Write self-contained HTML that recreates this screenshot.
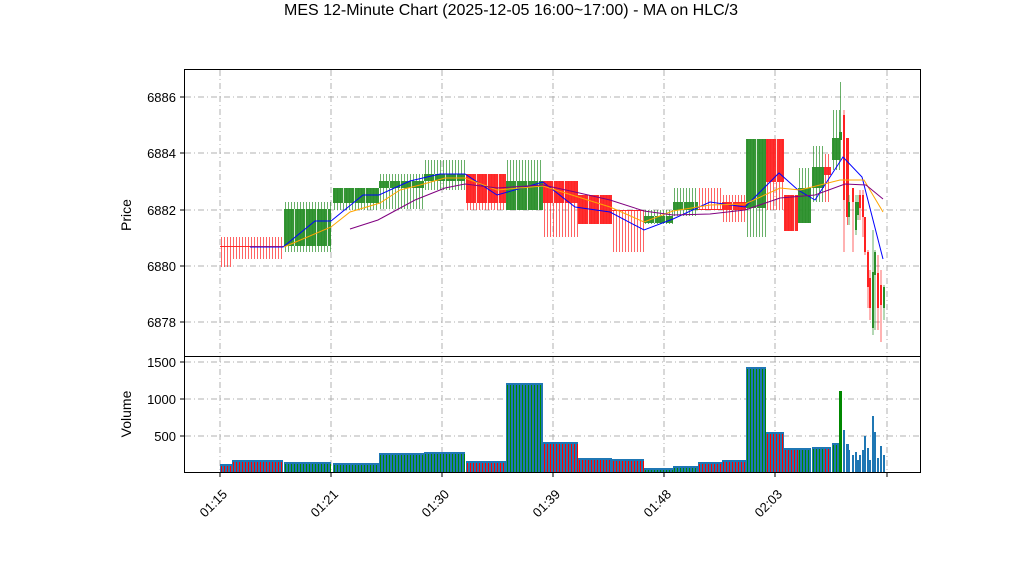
<!DOCTYPE html>
<html><head><meta charset="utf-8"><style>
body{margin:0;background:#fff;}
svg{font-family:"Liberation Sans","DejaVu Sans",sans-serif;}
</style></head><body>
<svg id="s" width="1022" height="575" xmlns="http://www.w3.org/2000/svg">
<rect width="1022" height="575" fill="#fff"/>
<text x="511" y="15" font-size="16" text-anchor="middle">MES 12-Minute Chart (2025-12-05 16:00~17:00) - MA on HLC/3</text>
<g id="grid" stroke="#b0b0b0" stroke-dasharray="6,3,1,3" stroke-width="1"></g>
<g id="c"></g>
<g id="ma" fill="none" stroke-width="1"></g>
<rect x="184.5" y="69.5" width="736" height="287" fill="none" stroke="#000"/>
<rect x="184.5" y="356.5" width="736" height="116" fill="none" stroke="#000"/>
<g id="lab" font-size="13"></g>
<text transform="translate(131,215) rotate(-90)" font-size="14" text-anchor="middle">Price</text>
<text transform="translate(131,414) rotate(-90)" font-size="14" text-anchor="middle">Volume</text>
</svg>
<script>
const NS="http://www.w3.org/2000/svg";
function el(p,t,a){const e=document.createElementNS(NS,t);for(const k in a)e.setAttribute(k,a[k]);document.getElementById(p).appendChild(e);return e;}
const xs=[[220,"01:15"],[331,"01:21"],[442,"01:30"],[553,"01:39"],[664,"01:48"],[775,"02:03"],[887,""]];
const py=[[97,6886],[153,6884],[210,6882],[266,6880],[322,6878]];
const vy=[[362,1500],[399,1000],[436,500]];
xs.forEach(([x,l])=>{el("grid","line",{x1:x,x2:x,y1:70,y2:472});
 el("lab","line",{x1:x,x2:x,y1:473,y2:477,stroke:"#000"});
 if(l){const t=el("lab","text",{transform:`translate(${x+8},${495}) rotate(-45)`,"text-anchor":"end","font-size":13});t.textContent=l;}});
py.forEach(([y,v])=>{el("grid","line",{x1:185,x2:920,y1:y,y2:y});el("lab","line",{x1:180,x2:184,y1:y,y2:y,stroke:"#000"});
 const t=el("lab","text",{x:176,y:y+5,"text-anchor":"end"});t.textContent=v;});
vy.forEach(([y,v])=>{el("grid","line",{x1:185,x2:920,y1:y,y2:y});el("lab","line",{x1:180,x2:184,y1:y,y2:y,stroke:"#000"});
 const t=el("lab","text",{x:176,y:y+5,"text-anchor":"end"});t.textContent=v;});
const R="#ff2222",G="#2a8f2a";
const seg=[
[220,232,R,246,247,237,267,464],[232,283,R,246,247,237,259,460],[284,331,G,209,246,202,252,462],
[333,379,G,188,203,188,210,463],[379,424,G,181,188,174,209,453],[424,465,G,174,181,160,190,452],
[466,506,R,174,203,174,210,461],[506,543,G,181,210,160,210,383],[543,578,R,181,203,181,237,442],
[578,612,R,195,224,195,224,458],[612,644,R,210,211,210,252,459],[644,673,G,216,223,210,224,468],
[673,698,G,202,210,188,216,466],[698,722,R,209,210,188,210,462],[722,746,R,202,210,195,222,460],
[746,766,G,139,208,139,237,367],[766,784,R,139,182,139,210,432],[784,798,R,195,231,195,231,448],
[798,811,G,188,223,168,223,448],[812,824,G,167,188,146,202,447],[824,831,R,167,175,154,202,447],[832,840,G,138,160,110,170,443]];
seg.forEach(s=>{const[x0,x1,c,bt,bb,wt,wb,vy]=s;
 el("c","rect",{x:x0,y:vy,width:x1-x0,height:473-vy,fill:"#1f77b4"});
 for(let x=x0+1;x<x1;x+=3){el("c","line",{x1:x+.5,x2:x+.5,y1:wt,y2:wb,stroke:c,"stroke-opacity":.7});
   el("c","line",{x1:x+.5,x2:x+.5,y1:vy+2,y2:473,stroke:c==R?"#f00":"#080"});}
 el("c","rect",{x:x0,y:bt,width:x1-x0,height:Math.max(1,bb-bt),fill:c,"fill-opacity":.95});
 if(bb-bt>3){for(let x=x0+10;x<x1-3;x+=11){el("c","line",{x1:x+.5,x2:x+.5,y1:bt,y2:bb,stroke:"#fff","stroke-opacity":.8});}}});
const sm=[[839,3,G,132,140,82,160,391],[843,2,R,115,200,110,252,430],[846,3,R,138,217,138,225,444],[848,2,G,202,217,195,225,450],
[852,2,R,188,202,188,252,455],[855,2,G,202,230,195,235,452],[857,2,G,202,215,195,220,460],[859,2,R,195,208,190,220,455],
[862,2,R,195,217,190,237,450],[864,2,R,217,252,217,255,436],[867,2,R,252,287,250,308,448],[869,2,R,278,308,270,320,460],
[872,2,G,272,328,230,335,416],[874,2,G,252,275,250,330,432],[877,2,R,273,308,255,330,458],[880,2,R,285,305,270,342,446],[883,2,G,287,308,285,320,455]];
sm.forEach(s=>{const[x,w,c,bt,bb,wt,wb,vy]=s;
 el("c","rect",{x:x,y:vy,width:w,height:473-vy,fill:c==G&&vy<400?"#080":"#1f77b4"});
 el("c","line",{x1:x+w/2,x2:x+w/2,y1:wt,y2:wb,stroke:c,"stroke-opacity":.7});
 el("c","rect",{x:x,y:bt,width:w,height:bb-bt,fill:c});});
function pl(pts,col){el("ma","polyline",{points:pts.map(p=>p.join(",")).join(" "),stroke:col});}
pl([[250,247],[283,247],[315,221],[331,221],[363,195],[379,195],[410,181],[440,174],[465,174],[497,195],[543,182],[575,207],[610,212],[644,230],[673,219],[710,202],[745,207],[779,173],[798,190],[815,200],[843,157],[862,177],[883,259]],"#0000ff");
pl([[284,247],[331,227],[350,212],[380,203],[400,190],[420,185],[445,178],[465,178],[497,190],[543,186],[575,196],[610,207],[644,222],[673,211],[710,205],[745,204],[780,188],[800,190],[840,180],[864,180],[883,212]],"#ffa500");
pl([[350,229],[378,220],[415,200],[445,188],[465,184],[497,188],[543,185],[575,192],[610,200],[644,211],[673,215],[710,214],[745,210],[780,198],[815,195],[845,184],[866,185],[883,199]],"#800080");
</script>
</body></html>
